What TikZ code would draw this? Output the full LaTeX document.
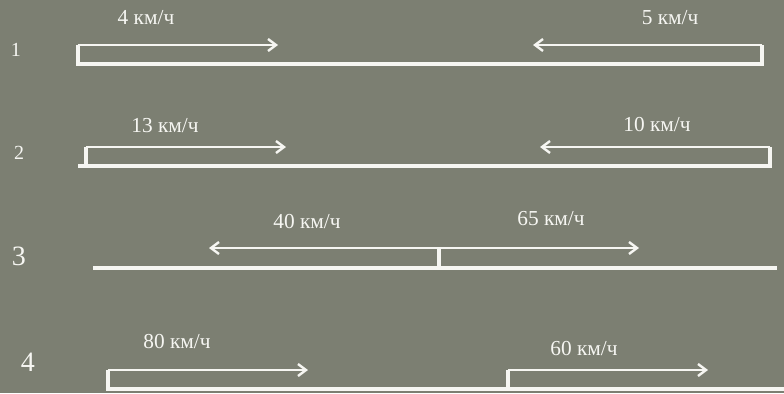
\documentclass[tikz,border=0pt]{standalone}
\usepackage{fontspec}
\setmainfont{Liberation Serif}
\usetikzlibrary{arrows.meta}
\definecolor{bg}{RGB}{124,127,114}
\definecolor{ink}{RGB}{246,246,242}
\begin{document}
\begin{tikzpicture}[x=0.75pt,y=-0.75pt,
  road/.style={draw=ink,line width=2.3pt},
  move/.style={draw=ink,line width=2.1pt,-{Straight Barb[length=6pt,width=9pt,line width=1.8pt]}},
  lbl/.style={text=ink,font=\fontsize{16}{18}\selectfont,inner sep=0pt},
  num/.style={text=ink,font=\fontsize{15}{17}\selectfont,inner sep=0pt}]
\fill[bg] (0,0) rectangle (784,393);
\useasboundingbox (0,0) rectangle (784,393);
% Row 1
\node[num] (n1) at (16,50) {1};
\coordinate (a1) at (78,64); \coordinate (b1) at (762,64);
\coordinate (a1t) at (78,45); \coordinate (b1t) at (762,45);
\coordinate (a1e) at (278,45); \coordinate (b1e) at (533,45);
\draw[road] (a1t) -- (a1) -- (b1) -- (b1t);
\draw[move] (a1t) -- (a1e);
\draw[move] (b1t) -- (b1e);
\node[lbl] (l1a) at (146,18) {4 км/ч};
\node[lbl] (l1b) at (670,18) {5 км/ч};
% Row 2
\node[num] (n2) at (19,153) {2};
\coordinate (s2) at (78,166); \coordinate (a2) at (86,166); \coordinate (b2) at (770,166);
\coordinate (a2t) at (86,147); \coordinate (b2t) at (770,147);
\coordinate (a2e) at (286,147); \coordinate (b2e) at (540,147);
\draw[road] (s2) -- (b2) -- (b2t);
\draw[road] (a2) -- (a2t);
\draw[move] (a2t) -- (a2e);
\draw[move] (b2t) -- (b2e);
\node[lbl] (l2a) at (165,126) {13 км/ч};
\node[lbl] (l2b) at (657,125) {10 км/ч};
% Row 3
\node[num,font=\fontsize{21}{23}\selectfont] (n3) at (19,256) {3};
\coordinate (s3) at (93,268); \coordinate (e3) at (777,268);
\coordinate (m3) at (439,268); \coordinate (m3t) at (439,248);
\coordinate (l3e) at (209,248); \coordinate (r3e) at (639,248);
\draw[road] (s3) -- (e3);
\draw[road] (m3) -- (m3t);
\draw[move] (m3t) -- (l3e);
\draw[move] (m3t) -- (r3e);
\node[lbl] (l3a) at (307,222) {40 км/ч};
\node[lbl] (l3b) at (551,219) {65 км/ч};
% Row 4
\node[num,font=\fontsize{21}{23}\selectfont] (n4) at (28,362) {4};
\coordinate (a4) at (108,389); \coordinate (e4) at (786,389);
\coordinate (a4t) at (108,370); \coordinate (a4e) at (308,370);
\coordinate (b4) at (508,389); \coordinate (b4t) at (508,370); \coordinate (b4e) at (708,370);
\draw[road] (a4t) -- (a4) -- (e4);
\draw[road] (b4) -- (b4t);
\draw[move] (a4t) -- (a4e);
\draw[move] (b4t) -- (b4e);
\node[lbl] (l4a) at (177,342) {80 км/ч};
\node[lbl] (l4b) at (584,349) {60 км/ч};
\end{tikzpicture}
\end{document}
